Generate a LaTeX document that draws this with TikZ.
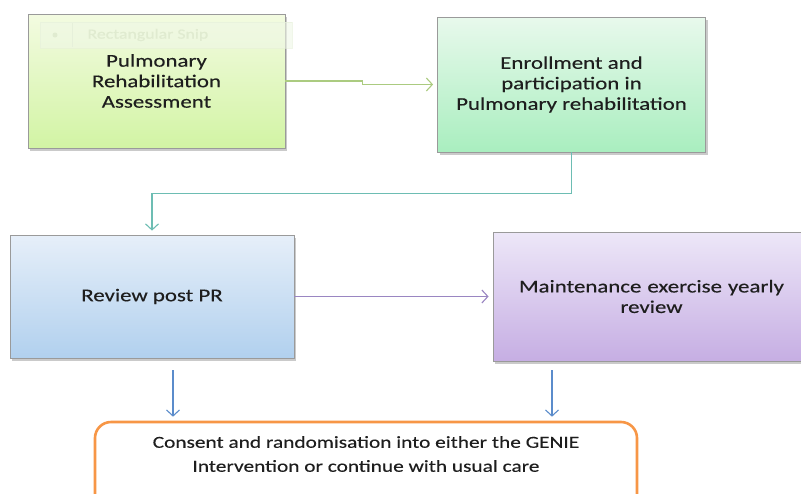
\documentclass[tikz,border=0pt]{standalone}
\usepackage{fontspec}
\setmainfont{Carlito}[FakeStretch=1.27, FakeBold=0.3]
\usetikzlibrary{arrows.meta,shadows,calc}

\definecolor{txt}{HTML}{1E1E1E}
\definecolor{edgegray}{HTML}{9A9A9A}
\definecolor{limetop}{HTML}{F3FBE1}
\definecolor{limebot}{HTML}{D2F4A4}
\definecolor{minttop}{HTML}{E8F9EC}
\definecolor{mintbot}{HTML}{A9EEBF}
\definecolor{skytop}{HTML}{E6EFF9}
\definecolor{skybot}{HTML}{B1D0EE}
\definecolor{lilactop}{HTML}{EDE7F8}
\definecolor{lilacbot}{HTML}{C6AEE3}
\definecolor{orangeedge}{HTML}{F79646}
\definecolor{linkgreen}{HTML}{ABCB80}
\definecolor{linkteal}{HTML}{6DBDB3}
\definecolor{linkpurple}{HTML}{9A86C2}
\definecolor{linkblue}{HTML}{5B8CCB}
\definecolor{snipline}{HTML}{E6F0DA}
\definecolor{snipfill}{HTML}{EFF7E6}
\definecolor{sniptxt}{HTML}{E0EBD0}

\tikzset{
  box/.style={draw=edgegray, line width=0.8pt, align=center, text=txt,
    font=\fontsize{18}{20.5}\selectfont,
    drop shadow={shadow xshift=2pt, shadow yshift=-2.5pt, opacity=0.35, fill=black!60}},
  flowarrow/.style={line width=1.1pt, -{Straight Barb[length=6pt,width=13pt,line width=1.1pt]}},
}

\begin{document}
\begin{tikzpicture}[x=1pt,y=1pt]
\clip (0,0) rectangle (801,-493);
\useasboundingbox (0,0) rectangle (801,-493);

% process boxes, shaded from a pale top to a deeper bottom
\node[box, minimum width=257, minimum height=134,
      top color=limetop, bottom color=limebot]
  (assess) at (156.5,-81) {Pulmonary\\Rehabilitation\\Assessment};

% faint snipping-tool bar over the first box
\node[draw=snipline, fill=snipfill, minimum width=252, minimum height=26,
      inner sep=0pt, opacity=0.6] (snipbar) at (166,-35) {};
\node[text=sniptxt, font=\fontsize{14}{16}\selectfont, anchor=west]
  (sniptext) at (84,-35) {Rectangular Snip};
\draw[snipline] (72,-23) -- (72,-47);
\fill[sniptxt] (55,-35) circle (2.5);

\node[box, minimum width=268, minimum height=135,
      top color=minttop, bottom color=mintbot]
  (enrol) at (571.5,-84.5) {Enrollment and\\participation in\\Pulmonary rehabilitation};

\node[box, minimum width=284, minimum height=123,
      top color=skytop, bottom color=skybot]
  (review) at (152,-296.5) {Review post PR};

\node[box, minimum width=317, minimum height=129, text width=300,
      top color=lilactop, bottom color=lilacbot]
  (maint) at (651.5,-296.5) {Maintenance exercise yearly\\review};

% final rounded box
\node[draw=orangeedge, line width=2.6pt, rounded corners=16pt, fill=white,
      minimum width=542, minimum height=90] (final) at (366,-467) {};
\node[text=txt, align=center, font=\fontsize{16.8}{24}\selectfont]
  (finaltext) at (366,-454)
  {Consent and randomisation into either the GENIE\\Intervention or continue with usual care};

% connectors
\draw[flowarrow, linkgreen, shorten >=4pt]
  (assess.east) -- ++(77,0) |- (enrol.west);
\draw[flowarrow, linkteal, shorten >=4pt]
  (enrol.south) -- ++(0,-41) -| (review.north);
\draw[flowarrow, linkpurple, shorten >=4pt]
  (review.east) -- (maint.west);

\coordinate (leftdrop) at (173,-370);
\coordinate (rightdrop) at (552,-370);
\draw[flowarrow, linkblue, shorten >=4pt] (leftdrop) -- (final.north -| leftdrop);
\draw[flowarrow, linkblue, shorten >=4pt] (rightdrop) -- (final.north -| rightdrop);
\end{tikzpicture}
\end{document}
